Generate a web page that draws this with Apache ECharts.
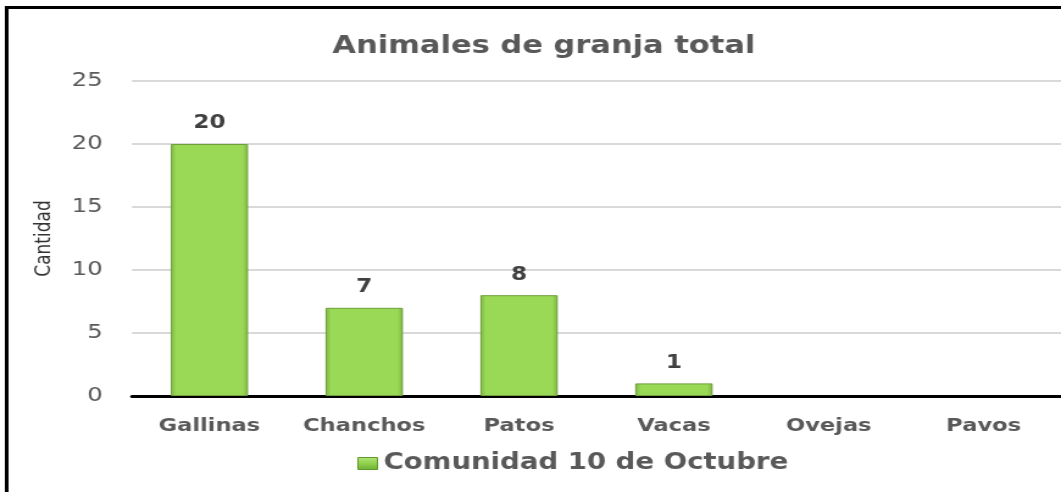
<!DOCTYPE html>
<html>
<head>
<meta charset="utf-8">
<style>
  html, body { margin: 0; padding: 0; background: #ffffff; overflow: hidden; }
  /* the chart is laid out on a narrower canvas and widened to 1061px */
  #chart { width: 870px; height: 492px; transform: scaleX(1.21954); transform-origin: 0 0; }
</style>
<script src="https://cdn.jsdelivr.net/npm/echarts@6/dist/echarts.min.js"></script>
</head>
<body>
<div id="chart"></div>
<script>
// Farm animal counts for one community
const categories = ['Gallinas', 'Chanchos', 'Patos', 'Vacas', 'Ovejas', 'Pavos'];
const seriesName = 'Comunidad 10 de Octubre';
const values = [20, 7, 8, 1, 0, 0];
const titleText = 'Animales de granja total';
const yAxisName = 'Cantidad';

const chart = echarts.init(document.getElementById('chart'));

// bevelled green bar fill
const barFill = new echarts.graphic.LinearGradient(0, 0, 1, 0, [
  { offset: 0, color: '#7cb443' },
  { offset: 0.07, color: '#9ad956' },
  { offset: 0.93, color: '#9ad956' },
  { offset: 1, color: '#7cb443' }
]);
const iconFill = new echarts.graphic.LinearGradient(0, 0, 0, 1, [
  { offset: 0, color: '#b6e57e' },
  { offset: 0.5, color: '#8fd04c' },
  { offset: 1, color: '#6fae34' }
]);

// empty categories get no outline so nothing shows on the axis
const barData = values.map(v => (v === 0 ? { value: v, itemStyle: { borderWidth: 0, opacity: 0 } } : v));

chart.setOption({
  animation: false,
  backgroundColor: '#ffffff',
  title: {
    text: titleText,
    left: 441,
    textAlign: 'center',
    top: 29,
    textStyle: {
      fontFamily: 'DejaVu Sans',
      fontWeight: 'bold',
      fontSize: 25,
      color: '#595959'
    }
  },
  legend: {
    data: [{ name: seriesName, itemStyle: { color: iconFill, borderColor: '#5f9a2c', borderWidth: 1 } }],
    left: 288,
    top: 447,
    itemWidth: 16,
    itemHeight: 12,
    itemGap: 8,
    icon: 'rect',
    textStyle: {
      fontFamily: 'DejaVu Sans',
      fontWeight: 'bold',
      fontSize: 22.6,
      color: '#595959'
    }
  },
  grid: {
    left: 108.2,
    top: 81,
    width: 767.5,
    height: 315,
    containLabel: false
  },
  xAxis: {
    type: 'category',
    data: categories,
    axisLine: { lineStyle: { color: '#000000', width: 3 } },
    axisTick: { show: false },
    axisLabel: {
      interval: 0,
      margin: 21,
      fontFamily: 'DejaVu Sans',
      fontWeight: 'bold',
      fontSize: 18.5,
      color: '#595959'
    }
  },
  yAxis: {
    type: 'value',
    min: 0,
    max: 25,
    interval: 5,
    name: yAxisName,
    nameLocation: 'middle',
    nameGap: 63,
    nameRotate: 90,
    nameTextStyle: {
      fontFamily: 'DejaVu Sans',
      fontSize: 17,
      color: '#333333'
    },
    axisLine: { show: false },
    axisTick: { show: false },
    axisLabel: {
      margin: 24,
      fontFamily: 'DejaVu Sans',
      fontSize: 20,
      color: '#595959'
    },
    splitLine: { lineStyle: { color: '#d9d9d9', width: 2 } }
  },
  series: [{
    name: seriesName,
    type: 'bar',
    data: barData,
    barWidth: '50%',
    itemStyle: {
      color: barFill,
      borderColor: '#6f9e3c',
      borderWidth: 1
    },
    label: {
      show: true,
      position: 'top',
      distance: 11,
      fontFamily: 'DejaVu Sans',
      fontWeight: 'bold',
      fontSize: 19,
      color: '#404040',
      formatter: p => (p.value > 0 ? String(p.value) : '')
    }
  }],
  graphic: [{
    type: 'rect',
    shape: { x: 5.5, y: 7.5, width: 1000, height: 600 },
    style: { fill: 'none', stroke: '#000000', lineWidth: 3 },
    silent: true,
    z: 100
  }]
});
</script>
</body>
</html>
